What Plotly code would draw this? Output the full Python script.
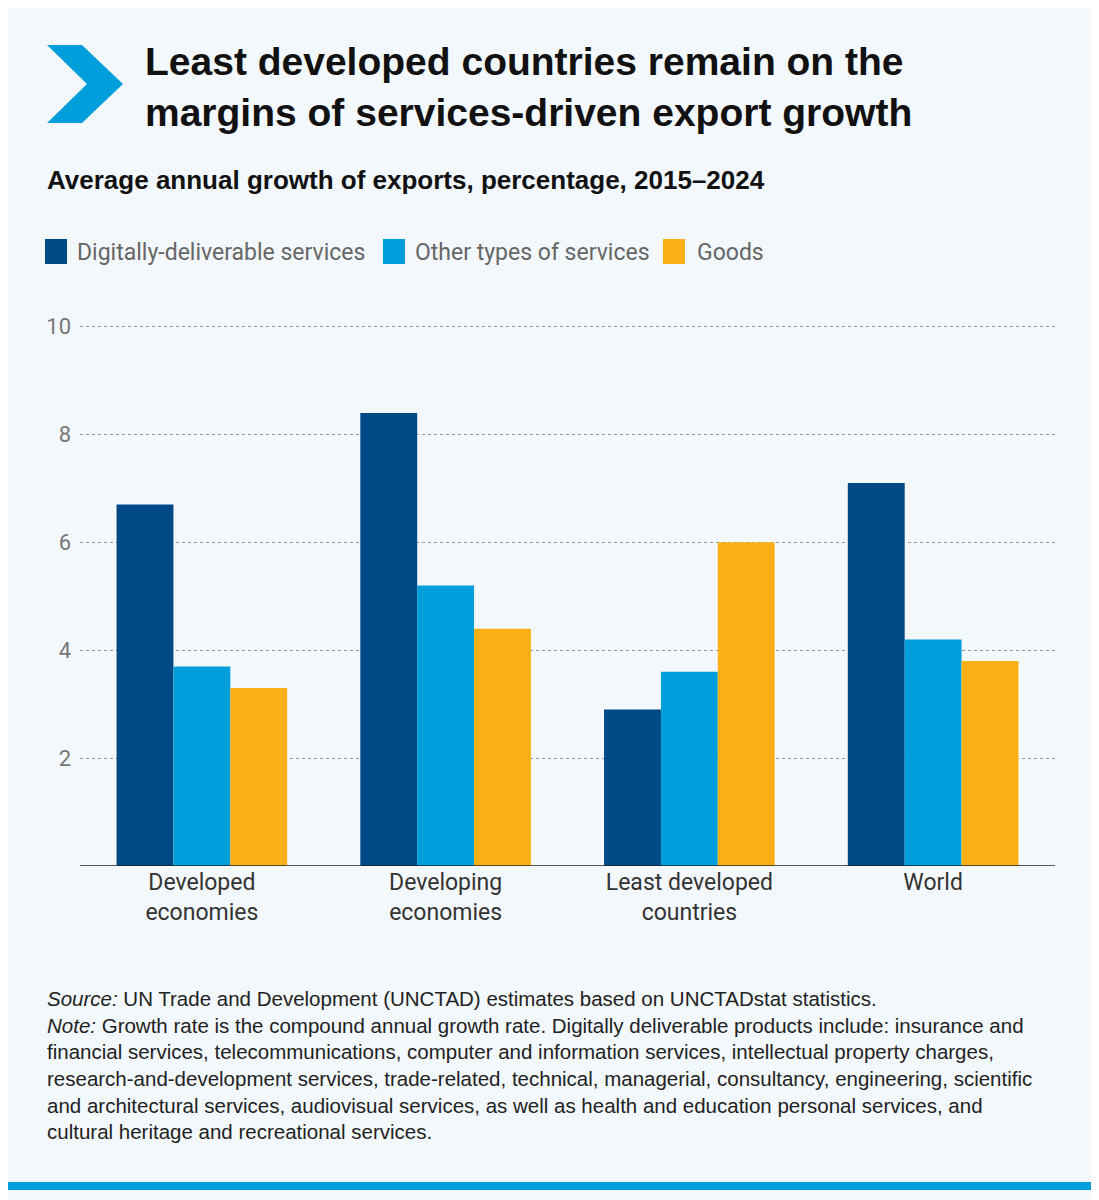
import plotly.graph_objects as go

categories = ["Developed<br>economies", "Developing<br>economies", "Least developed<br>countries", "World"]
digital = [6.7, 8.4, 2.9, 7.1]
other = [3.7, 5.2, 3.6, 4.2]
goods = [3.3, 4.4, 6.0, 3.8]
series_names = ["Digitally-deliverable services", "Other types of services", "Goods"]
colors = ["#004987", "#009edb", "#fbaf17"]
yticks = [2, 4, 6, 8, 10]

OFF = 8  # page body margin
W, H = 1099 - OFF, 1200 - OFF
L, R, T, B = 80 - OFF, 1055 - OFF, 325 - OFF, 866 - OFF
def px(x): return (x - OFF - L) / (R - L)
def py(y): return (B - (y - OFF)) / (B - T)

fig = go.Figure()
for name, vals, c in zip(series_names, [digital, other, goods], colors):
    fig.add_bar(x=categories, y=vals, name=name, marker_color=c, marker_line_width=0, showlegend=False)

pts = [(47, 45), (82, 45), (123, 84), (82, 123), (47, 123), (87, 84)]
path = "M " + " L ".join(f"{px(x)},{py(y)}" for x, y in pts) + " Z"
shapes = [
    dict(type="path", xref="paper", yref="paper", path=path, fillcolor="#009edb", line_width=0),
    dict(type="rect", xref="paper", yref="paper", x0=px(0), x1=px(1099), y0=py(1190), y1=py(1182),
         fillcolor="#009edb", line_width=0),
    dict(type="line", xref="paper", yref="y", x0=0, x1=1, y0=0, y1=0, line=dict(color="#222", width=1.5)),
]

fnt = "Liberation Sans"
narrow = "Roboto"
ann = [
    dict(x=px(143), y=py(87), text="<b>Least developed countries remain on the<br>margins of services-driven export growth</b>",
         font=dict(family=fnt, size=39, color="#111"), align="left"),
    dict(x=px(45), y=py(180), text="<b>Average annual growth of exports, percentage, 2015–2024</b>",
         font=dict(family=fnt, size=26, color="#111"), align="left"),
    dict(x=px(45), y=py(1065),
         text="<i>Source:</i> UN Trade and Development (UNCTAD) estimates based on UNCTADstat statistics.<br>"
              "<i>Note:</i> Growth rate is the compound annual growth rate. Digitally deliverable products include: insurance and<br>"
              "financial services, telecommunications, computer and information services, intellectual property charges,<br>"
              "research-and-development services, trade-related, technical, managerial, consultancy, engineering, scientific<br>"
              "and architectural services, audiovisual services, as well as health and education personal services, and<br>"
              "cultural heritage and recreational services.",
         font=dict(family=fnt, size=20.5, color="#222"), align="left"),
]
leg_x = [(45, 75), (383, 413), (663, 695)]
for (bx, tx), name, c in zip(leg_x, series_names, colors):
    shapes.append(dict(type="rect", xref="paper", yref="paper", x0=px(bx), x1=px(bx + 22),
                       y0=py(264), y1=py(239), fillcolor=c, line_width=0))
    ann.append(dict(x=px(tx), y=py(252), text=name, font=dict(family=narrow, size=23, color="#666")))
for a in ann:
    a.update(xref="paper", yref="paper", xanchor="left", yanchor="middle", showarrow=False)

fig.update_layout(
    width=W, height=H, margin=dict(l=L, r=W - R, t=T, b=H - B),
    paper_bgcolor="#f3f8fc", plot_bgcolor="#f3f8fc",
    barmode="group", bargap=0.30, bargroupgap=0,
    shapes=shapes, annotations=ann, showlegend=False,
    xaxis=dict(tickfont=dict(family=narrow, size=23, color="#333"), showline=False, ticks=""),
    yaxis=dict(range=[0, 10.03], tickvals=yticks, showgrid=True, gridcolor="#999", griddash="dot",
               gridwidth=1, zeroline=False, ticks="", ticklabelstandoff=8,
               tickfont=dict(family=narrow, size=22, color="#777")),
)
fig.write_html("out.html")
